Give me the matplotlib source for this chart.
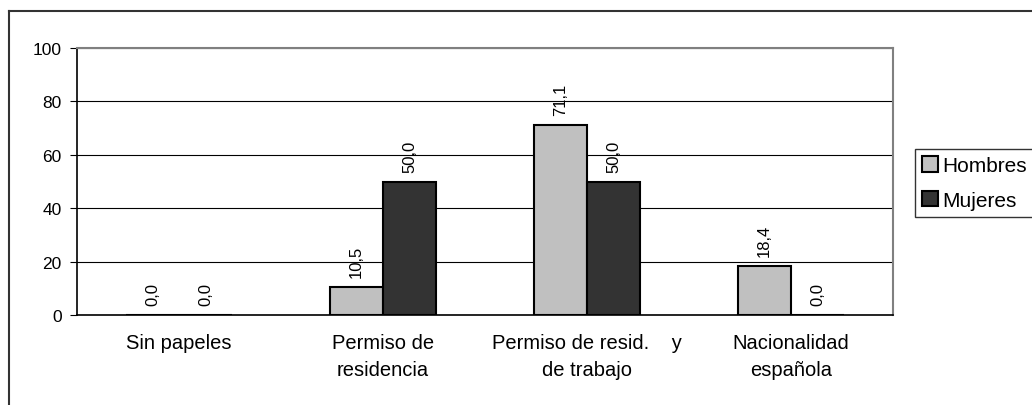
import matplotlib.pyplot as plt
import numpy as np
from matplotlib.lines import Line2D
from matplotlib.patches import Patch

plt.rcParams['font.family'] = ['Liberation Sans', 'DejaVu Sans']

categories = ['Sin papeles', 'Permiso de\nresidencia', 'Permiso de resid.    y\nde trabajo', 'Nacionalidad\nespañola']
hombres = [0.0, 10.5, 71.1, 18.4]
mujeres = [0.0, 50.0, 50.0, 0.0]

fig = plt.figure(figsize=(10.32, 4.06), dpi=100)
ax = fig.add_axes([77/1032, 90/406, (893-77)/1032, (316-49)/406])

x = np.arange(len(categories))
w = 0.26
b1 = ax.bar(x - w/2, hombres, w, color='#c0c0c0', edgecolor='black', linewidth=1.5, label='Hombres', zorder=3)
b2 = ax.bar(x + w/2, mujeres, w, color='#333333', edgecolor='black', linewidth=1.5, label='Mujeres', zorder=3)

for bars, vals in [(b1, hombres), (b2, mujeres)]:
    for bar, v in zip(bars, vals):
        ax.annotate(f'{v:.1f}'.replace('.', ','), (bar.get_x() + bar.get_width()/2, v),
                    xytext=(0, 7), textcoords='offset points', rotation=90,
                    ha='center', va='bottom', fontsize=12)

ax.set_xlim(-0.5, 3.5)
ax.set_ylim(0, 100)
ax.set_yticks([0, 20, 40, 60, 80, 100])
ax.set_xticks(x)
ax.set_xticklabels(categories, fontsize=14.5, linespacing=1.5)
ax.tick_params(axis='x', length=0, pad=13)
ax.tick_params(axis='y', length=5, labelsize=12.5, pad=6)
ax.yaxis.grid(True, color='black', linewidth=0.8, zorder=0)
ax.set_axisbelow(True)
for s in ['top', 'right']:
    ax.spines[s].set_color('#808080')
    ax.spines[s].set_linewidth(1.5)
ax.spines['left'].set_linewidth(1.2)
ax.spines['bottom'].set_linewidth(1.2)

handles = [Patch(facecolor='#c0c0c0', edgecolor='black', linewidth=1.5),
           Patch(facecolor='#333333', edgecolor='black', linewidth=1.5)]
leg = fig.legend(handles, ['Hombres', 'Mujeres'], loc='upper left',
                 bbox_to_anchor=(915/1032, 1 - 150/406), fontsize=15,
                 frameon=True, fancybox=False, handlelength=0.75, handleheight=0.75,
                 handletextpad=0.2, borderpad=0.35, labelspacing=0.75, borderaxespad=0)
leg.get_frame().set_edgecolor('black')
leg.get_frame().set_linewidth(1.0)

# outer chart frame
fig.add_artist(Line2D([9/1032, 1], [1 - 12/406, 1 - 12/406], color='#333333', linewidth=1.5, transform=fig.transFigure))
fig.add_artist(Line2D([9/1032, 9/1032], [0, 1 - 12/406], color='#333333', linewidth=1.5, transform=fig.transFigure))

fig.savefig('out.png', dpi=100)
